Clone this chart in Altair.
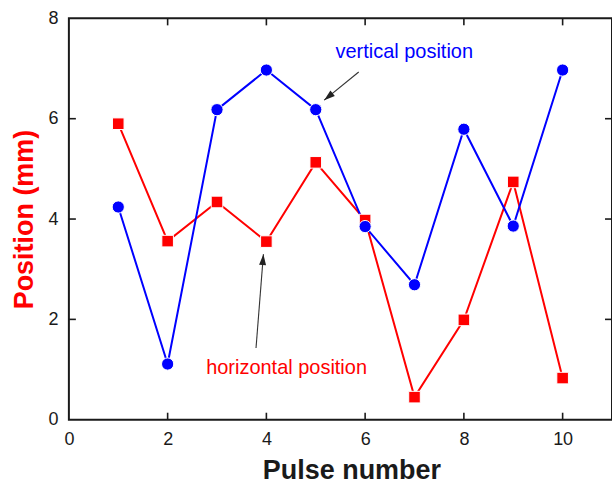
import math
import altair as alt
import pandas as pd

# Beam position per pulse (mm)
pulse = [1, 2, 3, 4, 5, 6, 7, 8, 9, 10]
vertical_mm = [4.24, 1.11, 6.18, 6.97, 6.18, 3.85, 2.69, 5.79, 3.86, 6.97]
horizontal_mm = [5.90, 3.56, 4.34, 3.55, 5.13, 3.98, 0.45, 1.99, 4.74, 0.83]

x_ticks = [0, 2, 4, 6, 8, 10]
y_ticks = [0, 2, 4, 6, 8]

W, H = 544, 402
TICK = 7
FONT = "Liberation Sans"
BLUE = "#0000ff"
RED = "#ff0000"
INK = "#1a1a1a"

x_scale = alt.Scale(domain=[0, 11], nice=False, zero=False)
y_scale = alt.Scale(domain=[0, 8], nice=False, zero=False)

x_axis = alt.Axis(values=x_ticks, title="Pulse number", ticks=False, tickSize=0,
                  domain=False, grid=False, labelPadding=11, labelFontSize=18,
                  labelFont=FONT, labelColor=INK, titleFont=FONT, titleFontSize=27,
                  titleFontWeight="bold", titleColor=INK, titlePadding=9,
                  titleX=283, labelFlush=False)
y_axis = alt.Axis(values=y_ticks, title="Position (mm)", ticks=False, tickSize=0,
                  domain=False, grid=False, labelPadding=11, labelFontSize=18,
                  labelFont=FONT, labelColor=INK, titleFont=FONT, titleFontSize=27,
                  titleFontWeight="bold", titleColor=RED, titlePadding=9,
                  labelFlush=False)

def xe(field="x"):
    return alt.X(f"{field}:Q", scale=x_scale, axis=x_axis)

def ye(field="y"):
    return alt.Y(f"{field}:Q", scale=y_scale, axis=y_axis)

df_v = pd.DataFrame({"x": pulse, "y": vertical_mm})
df_h = pd.DataFrame({"x": pulse, "y": horizontal_mm})

h_line = alt.Chart(df_h).mark_line(color=RED, strokeWidth=2).encode(x=xe(), y=ye())
h_pts = alt.Chart(df_h).mark_point(shape="square", filled=True, color=RED, size=135,
                                   opacity=1, stroke="white", strokeWidth=1).encode(x=xe(), y=ye())
v_line = alt.Chart(df_v).mark_line(color=BLUE, strokeWidth=2).encode(x=xe(), y=ye())
v_pts = alt.Chart(df_v).mark_point(shape="circle", filled=True, color=BLUE, size=150,
                                   opacity=1, stroke="white", strokeWidth=1).encode(x=xe(), y=ye())

# inward-pointing tick marks on all four sides of the frame
xt = pd.DataFrame({"x": x_ticks[1:]})
yt = pd.DataFrame({"y": y_ticks[1:-1]})
tick_style = dict(color=INK, strokeWidth=1.6)
ticks_bottom = alt.Chart(xt).mark_rule(**tick_style).encode(
    x=xe(), y=alt.value(H), y2=alt.value(H - TICK))
ticks_top = alt.Chart(xt).mark_rule(**tick_style).encode(
    x=xe(), y=alt.value(0), y2=alt.value(TICK))
ticks_left = alt.Chart(yt).mark_rule(**tick_style).encode(
    y=ye(), x=alt.value(0), x2=alt.value(TICK))
ticks_right = alt.Chart(yt).mark_rule(**tick_style).encode(
    y=ye(), x=alt.value(W), x2=alt.value(W - TICK))

# annotation arrows: tail -> tip, in data coordinates
arrow_x0 = [5.87, 3.79]
arrow_y0 = [6.93, 1.43]
arrow_x1 = [5.17, 3.94]
arrow_y1 = [6.37, 3.30]

px = W / 11.0
py = H / 8.0
angles = []
for a, b, c, d in zip(arrow_x0, arrow_y0, arrow_x1, arrow_y1):
    dx = (c - a) * px
    dy = -(d - b) * py
    angles.append((math.degrees(math.atan2(dx, -dy)) + 360) % 360)

arrows = pd.DataFrame({"x": arrow_x0, "y": arrow_y0, "x2": arrow_x1, "y2": arrow_y1,
                       "angle": angles})
arrow_shafts = alt.Chart(arrows).mark_rule(color="#333333", strokeWidth=1.1).encode(
    x=xe(), y=ye(), x2="x2:Q", y2="y2:Q")
arrow_heads = alt.Chart(arrows).mark_point(
    shape="M0,0L-0.32,1L0.32,1Z", filled=True, color="#222222", size=480, opacity=1
).encode(x=alt.X("x2:Q", scale=x_scale, axis=x_axis),
         y=alt.Y("y2:Q", scale=y_scale, axis=y_axis),
         angle=alt.Angle("angle:Q", scale=None))

labels = pd.DataFrame({
    "x": [5.40, 2.78],
    "y": [7.21, 0.915],
    "text": ["vertical position", "horizontal position"],
    "c": [BLUE, RED],
})
label_text = alt.Chart(labels).mark_text(
    align="left", baseline="alphabetic", font=FONT, fontSize=20
).encode(x=xe(), y=ye(), text="text:N", color=alt.Color("c:N", scale=None))

chart = alt.layer(
    h_line, v_line, h_pts, v_pts,
    ticks_bottom, ticks_top, ticks_left, ticks_right,
    arrow_shafts, arrow_heads, label_text,
).properties(
    width=W, height=H,
    background="white",
    autosize=alt.AutoSizeParams(type="none"),
    padding={"left": 69, "top": 18, "right": 0, "bottom": 65},
).configure_view(
    stroke=INK, strokeWidth=2
)

chart.save("out.html", embed_options={"renderer": "svg", "actions": False})
